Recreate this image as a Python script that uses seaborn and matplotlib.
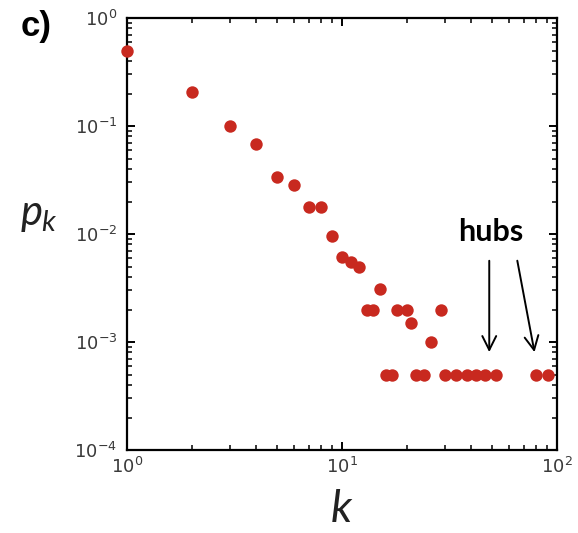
import matplotlib
matplotlib.use("Agg")
import matplotlib.pyplot as plt
import seaborn as sns
import pandas as pd

# grau k e probabilidade p_k
grau = [1, 2, 3, 4, 5, 6, 7, 8, 9, 10, 11, 12, 13, 14, 15, 18, 20, 21, 26, 29,
        16, 17, 22, 24, 30, 34, 38, 42, 46, 52, 80, 91]
prob = [0.49, 0.205, 0.101, 0.068, 0.034, 0.0285, 0.0177, 0.0177, 0.0096,
        0.0061, 0.0055, 0.0050, 0.0020, 0.0020, 0.0031, 0.0020, 0.0020,
        0.0015, 0.0010, 0.0020,
        0.0005, 0.0005, 0.0005, 0.0005, 0.0005, 0.0005, 0.0005, 0.0005,
        0.0005, 0.0005, 0.0005, 0.0005]

df = pd.DataFrame({"k": grau, "pk": prob})

sns.set_style("ticks")
plt.rcParams["font.family"] = ["DejaVu Sans"]
plt.rcParams["mathtext.fontset"] = "custom"
plt.rcParams["mathtext.it"] = "Lato:italic"

fig = plt.figure(figsize=(5.78, 5.33), dpi=100)
ax = fig.add_axes([0.2197, 0.1557, 0.744, 0.8105])

sns.scatterplot(data=df, x="k", y="pk", ax=ax, color="#c8291f", s=80,
                linewidth=0, clip_on=False, zorder=3)

ax.set_xscale("log")
ax.set_yscale("log")
ax.set_xlim(1, 100)
ax.set_ylim(1e-4, 1)

for s in ax.spines.values():
    s.set_linewidth(1.6)
    s.set_color("black")
ax.tick_params(which="both", direction="in", top=True, right=True,
               colors="black", labelcolor="#3a3a3a")
ax.tick_params(which="major", length=6, width=1.4, labelsize=13)
ax.tick_params(which="minor", length=3.5, width=1.1)
ax.tick_params(axis="y", which="major", pad=7)
ax.tick_params(axis="x", which="major", pad=5)

ax.set_xlabel("$k$", fontsize=32, labelpad=8, color="#222222")
ax.set_ylabel("$p_k$", fontsize=30, rotation=0, labelpad=0, color="#222222")
ax.yaxis.set_label_coords(-0.205, 0.5)

# anotação dos hubs
ax.text(49, 0.0104, "hubs", fontsize=22, fontweight="bold", family="Lato",
        ha="center", va="center", color="black")
arrow = dict(arrowstyle="->", color="black", lw=1.4, mutation_scale=25)
ax.annotate("", xy=(48.4, 0.00076), xytext=(48.4, 0.006), arrowprops=arrow)
ax.annotate("", xy=(79, 0.00076), xytext=(65, 0.006), arrowprops=arrow)

fig.text(0.036, 0.95, "c)", fontsize=25, fontweight="bold", color="black",
         family="Liberation Sans", ha="left", va="center")

fig.savefig("out.png", dpi=100)
